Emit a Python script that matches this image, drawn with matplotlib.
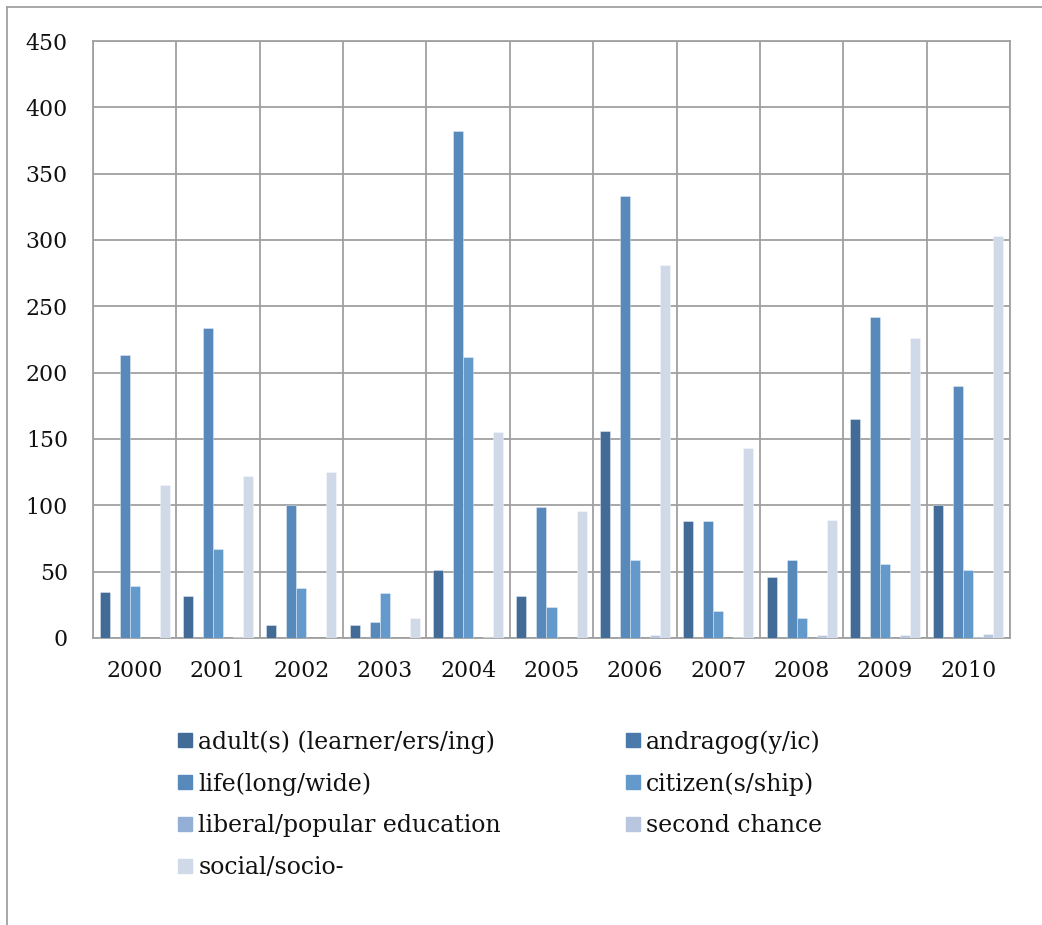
import numpy as np
import matplotlib
matplotlib.use("Agg")
import matplotlib.pyplot as plt
from matplotlib.lines import Line2D

plt.rcParams['font.family'] = ['DejaVu Serif']

years = ["2000", "2001", "2002", "2003", "2004", "2005",
         "2006", "2007", "2008", "2009", "2010"]

series_names = [
    "adult(s) (learner/ers/ing)",
    "andragog(y/ic)",
    "life(long/wide)",
    "citizen(s/ship)",
    "liberal/popular education",
    "second chance",
    "social/socio-",
]

adult = [35, 32, 10, 10, 51, 32, 156, 88, 46, 165, 100]
andragog = [0, 0, 0, 0, 0, 0, 0, 0, 0, 0, 0]
life = [213, 234, 100, 12, 382, 99, 333, 88, 59, 242, 190]
citizen = [39, 67, 38, 34, 212, 23, 59, 20, 15, 56, 51]
liberal = [0, 0, 0, 0, 0, 0, 0, 0, 0, 0, 1]
second_chance = [0, 1, 0, 0, 1, 0, 2, 1, 2, 2, 3]
social = [115, 122, 125, 15, 155, 96, 281, 143, 89, 226, 303]

values = [adult, andragog, life, citizen, liberal, second_chance, social]
colors = ["#426c97", "#4a79ab", "#5789bb", "#6399cb",
          "#93afd5", "#b8c6df", "#d0d9e7"]

grid_col = "#a0a0a0"

fig = plt.figure(figsize=(10.42, 9.25), dpi=100)
W, H = 1042, 925
ax = fig.add_axes([93 / W, 1 - 638 / H, (1010 - 93) / W, (638 - 41) / H])

x = np.arange(len(years))
width = 0.12
for i, (vals, col) in enumerate(zip(values, colors)):
    ax.bar(x + (i - 3) * width, vals, width, color=col,
           edgecolor=(1, 1, 1, 0.5), linewidth=0.5, zorder=3)

ax.set_xlim(-0.5, len(years) - 0.5)
ax.set_ylim(0, 450)
ax.set_yticks(range(0, 451, 50))
ax.set_xticks(x)
ax.set_xticklabels(years)

# vertical separators between year groups
ax.set_xticks(np.arange(-0.5, len(years), 1), minor=True)
ax.grid(True, which='minor', axis='x', color=grid_col, linewidth=1.3, zorder=0)
ax.grid(True, which='major', axis='y', color=grid_col, linewidth=1.3, zorder=0)
ax.tick_params(axis='both', which='both', length=0, labelsize=15.8,
               labelcolor='#111111')
ax.tick_params(axis='y', pad=18)
ax.tick_params(axis='x', pad=16)
for s in ax.spines.values():
    s.set_color(grid_col)
    s.set_linewidth(1.3)

handles = [Line2D([], [], linestyle='none', marker='s', markersize=10,
                  markerfacecolor=c, markeredgecolor=c) for c in colors]
order = [0, 2, 4, 6, 1, 3, 5]
fig.legend([handles[k] for k in order], [series_names[k] for k in order],
           loc='upper left', bbox_to_anchor=(176 / W, 1 - 730 / H),
           ncol=2, frameon=False, fontsize=17, handlelength=0.75,
           handletextpad=0.2, labelspacing=0.79, columnspacing=5.2,
           borderpad=0, borderaxespad=0, labelcolor='#111111')

# outer chart border (top and left edges)
fig.add_artist(Line2D([6.5 / W, 6.5 / W], [0, 1 - 7 / H], color=grid_col,
                      linewidth=1.3, transform=fig.transFigure))
fig.add_artist(Line2D([6.5 / W, 1], [1 - 7 / H, 1 - 7 / H], color=grid_col,
                      linewidth=1.3, transform=fig.transFigure))

fig.savefig("out.png", dpi=100)
